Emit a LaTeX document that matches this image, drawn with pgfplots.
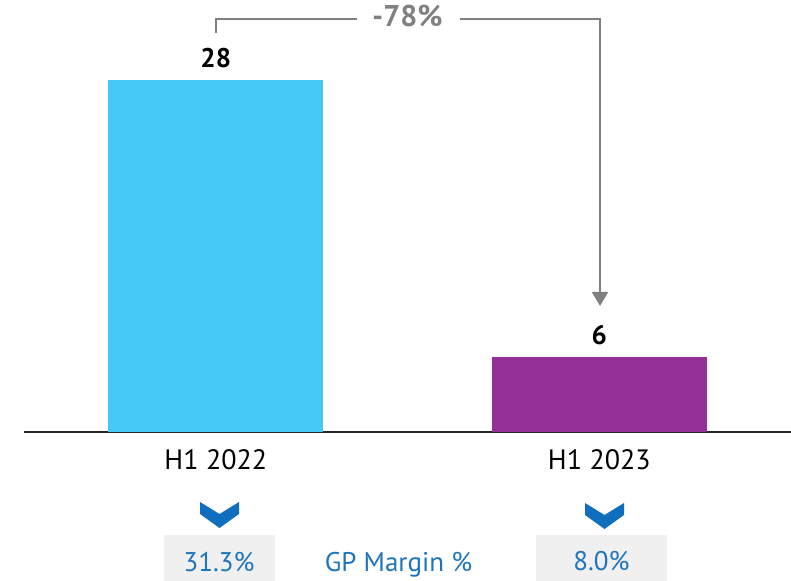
\documentclass[border=0pt]{standalone}
\usepackage{pgfplots}
\pgfplotsset{compat=1.18}
\usetikzlibrary{arrows.meta}
\usepackage{fontspec}
\setmainfont{PT Sans}

\definecolor{barblue}{RGB}{69,200,245}
\definecolor{barpurple}{RGB}{147,47,150}
\definecolor{annogray}{RGB}{128,128,128}
\definecolor{txtblue}{RGB}{30,116,190}
\definecolor{chevblue}{RGB}{15,110,190}
\definecolor{boxgray}{RGB}{240,240,240}

\begin{document}
\begin{tikzpicture}
\begin{axis}[
    name=ax,
    scale only axis,
    width=383.5pt,
    height=176pt,
    ybar,
    bar width=107.5pt,
    xmin=-0.5, xmax=1.5,
    ymin=0, ymax=28,
    axis x line*=bottom,
    axis y line=none,
    x axis line style={line width=1pt, color=black!85},
    xtick={0,1},
    xticklabels={H1 2022, H1 2023},
    major tick length=0pt,
    xticklabel style={font=\fontsize{14}{16}\selectfont, anchor=base, yshift=-19pt},
    ytick=\empty,
    /pgf/number format/assume math mode=true,
    nodes near coords,
    nodes near coords style={font=\fontsize{13.5}{15}\selectfont\bfseries, anchor=base, yshift=6pt},
    clip=false,
]
\addplot[fill=barblue, draw=none, bar shift=0pt] coordinates {(0,28)};
\addplot[fill=barpurple, draw=none, bar shift=0pt] coordinates {(1,6)};
\end{axis}

% annotations, in pixel units of the reference (origin top left)
\begin{scope}[x=0.5pt, y=-0.5pt, shift={(ax.south west)}, shift={(-24,-432)}]
  % change bracket
  \draw[annogray, line width=1pt] (216,33) -- (216,19) -- (357,19);
  \draw[annogray, line width=1pt, -{Triangle[width=8pt,length=7pt]}]
      (460,19) -- (600,19) -- (600,306);
  \node[anchor=base, text=annogray, font=\fontsize{15}{18}\selectfont\bfseries]
      at (407.5,27) {-78\%};
  % chevrons
  \fill[chevblue] (200,502) -- (219.5,514) -- (239,502) -- (239,514)
      -- (219.5,528) -- (200,514) -- cycle;
  \fill[chevblue] (585,503) -- (604.5,515) -- (624,503) -- (624,515)
      -- (604.5,529) -- (585,515) -- cycle;
  % margin boxes
  \fill[boxgray] (164,535) rectangle (275,581);
  \fill[boxgray] (536,535) rectangle (667,581);
  \node[anchor=base, text=txtblue, font=\fontsize{13.5}{16}\selectfont] at (219,572) {31.3\%};
  \node[anchor=base, text=txtblue, font=\fontsize{13.5}{16}\selectfont] at (601.5,571) {8.0\%};
  \node[anchor=base, text=txtblue, font=\fontsize{13.5}{16}\selectfont] at (398.5,572) {GP Margin \%};
  \pgfresetboundingbox
  \path (0,0) rectangle (791,581);
\end{scope}
\end{tikzpicture}
\end{document}
